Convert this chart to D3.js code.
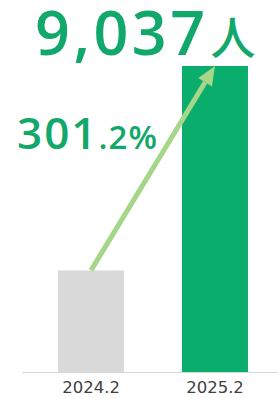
<!DOCTYPE html>
<html>
<head>
<meta charset="utf-8">
<script src="https://cdn.jsdelivr.net/npm/d3@7"></script>
<style>
  body { margin: 0; background: #fff; }
  svg { display: block; }
</style>
</head>
<body>
<div id="chart"></div>
<script>
var categories = ["2024.2", "2025.2"];
var values = [3000, 9037];
var unitLabel = "人";

var w = 278, h = 398;
var baseY = 372;

var svg = d3.select("#chart").append("svg")
  .attr("width", w)
  .attr("height", h);

var x = d3.scaleBand()
  .domain(categories)
  .range([0, 306])
  .paddingInner(0.468)
  .paddingOuter(0.468);

var y = d3.scaleLinear()
  .domain([0, d3.max(values)])
  .range([baseY, 66]);

var colors = ["#d9d9d9", "#0aad6c"];

svg.selectAll(".bar")
  .data(values)
  .enter().append("rect")
  .attr("class", "bar")
  .attr("x", function(d, i) { return x(categories[i]); })
  .attr("y", function(d) { return y(d); })
  .attr("width", x.bandwidth())
  .attr("height", function(d) { return baseY - y(d); })
  .attr("fill", function(d, i) { return colors[i]; });

// baseline
svg.append("line")
  .attr("x1", 22).attr("x2", w)
  .attr("y1", baseY + 0.5).attr("y2", baseY + 0.5)
  .attr("stroke", "#d9d9d9")
  .attr("stroke-width", 1);

var xAxis = d3.axisBottom(x).tickSize(0).tickPadding(9);
var gx = svg.append("g")
  .attr("transform", "translate(0," + baseY + ")")
  .call(xAxis);
gx.select(".domain").remove();
gx.selectAll("text")
  .attr("font-family", "'DejaVu Sans', sans-serif")
  .attr("font-size", 16.5)
  .attr("fill", "#404040");

// arrow from bar top to bar top
var x0 = x(categories[0]) + x.bandwidth() / 2, y0 = y(values[0]);
var x1 = x(categories[1]) + x.bandwidth() / 2, y1 = y(values[1]);
var ang = Math.atan2(y1 - y0, x1 - x0);
var headLen = 19, headW = 8;
var bx = x1 - headLen * Math.cos(ang), by = y1 - headLen * Math.sin(ang);
var arrowColor = "#a6d68a";

svg.append("line")
  .attr("x1", x0).attr("y1", y0)
  .attr("x2", bx).attr("y2", by)
  .attr("stroke", arrowColor)
  .attr("stroke-width", 5);

svg.append("path")
  .attr("d", "M" + x1 + "," + y1 +
    "L" + (bx + headW * Math.sin(ang)) + "," + (by - headW * Math.cos(ang)) +
    "L" + (bx - headW * Math.sin(ang)) + "," + (by + headW * Math.cos(ang)) + "Z")
  .attr("fill", arrowColor);

var green = "#12a86b";

// big value label
var big = svg.append("text")
  .attr("x", 35)
  .attr("y", 55)
  .attr("font-family", "'Open Sans', sans-serif")
  .attr("font-weight", 600)
  .attr("fill", green);
big.append("tspan")
  .attr("font-size", 61)
  .attr("letter-spacing", 3.5)
  .text(d3.format(",")(values[1]));
big.append("tspan")
  .attr("font-family", "'Noto Sans CJK JP', sans-serif")
  .attr("font-weight", 500)
  .attr("font-size", 45)
  .attr("dx", 2)
  .text(unitLabel);

// growth label
var pct = (values[1] / values[0] * 100).toFixed(1).split(".");
var g = svg.append("text")
  .attr("x", 17)
  .attr("y", 149)
  .attr("font-family", "'Open Sans', sans-serif")
  .attr("font-weight", 600)
  .attr("fill", green);
g.append("tspan").attr("font-size", 44).attr("letter-spacing", 2).text(pct[0]);
g.append("tspan").attr("font-size", 33).attr("letter-spacing", 1).text("." + pct[1] + "%");
</script>
</body>
</html>
